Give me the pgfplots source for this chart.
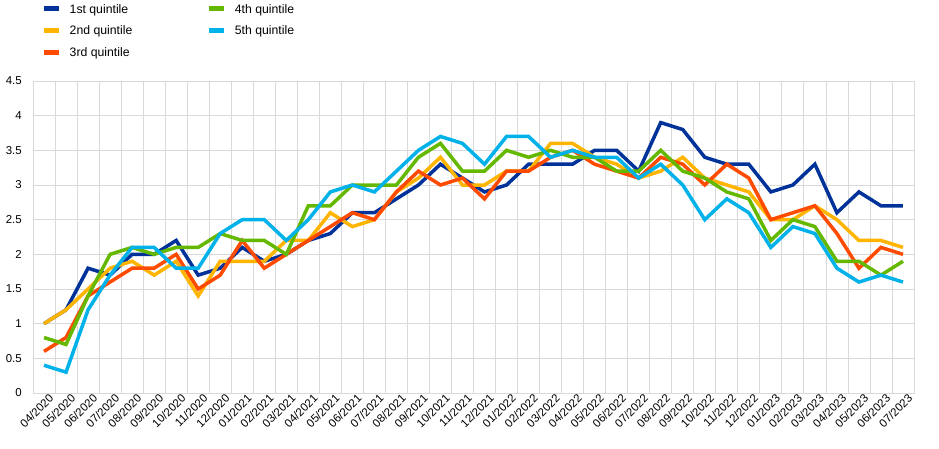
\documentclass[border=0pt]{standalone}
\usepackage{pgfplots}
\pgfplotsset{compat=1.18}
\usepackage{fontspec}
\setmainfont{Liberation Sans}
\definecolor{q1}{HTML}{003299}
\definecolor{q2}{HTML}{FFB400}
\definecolor{q3}{HTML}{FF4B00}
\definecolor{q4}{HTML}{65B800}
\definecolor{q5}{HTML}{00B1EA}
\definecolor{gridc}{HTML}{D9D9D9}
\newcommand{\lgd}[2]{\textcolor{#1}{\rule[2bp]{15bp}{5bp}}\hspace{11bp}#2}
\begin{document}
\begin{tikzpicture}
\useasboundingbox (-33bp,-56bp) rectangle (906bp,393bp);
\begin{axis}[
  scale only axis,
  width=881bp, height=312bp,
  xmin=-0.5, xmax=39.5, ymin=0, ymax=4.5,
  xtick={0,...,39},
  xticklabels={04/2020,05/2020,06/2020,07/2020,08/2020,09/2020,10/2020,11/2020,12/2020,01/2021,02/2021,03/2021,04/2021,05/2021,06/2021,07/2021,08/2021,09/2021,10/2021,11/2021,12/2021,01/2022,02/2022,03/2022,04/2022,05/2022,06/2022,07/2022,08/2022,09/2022,10/2022,11/2022,12/2022,01/2023,02/2023,03/2023,04/2023,05/2023,06/2023,07/2023},
  minor xtick={-0.5,0.5,...,39.5},
  ytick={0,0.5,...,4.5},
  major tick length=0pt, minor tick length=0pt,
  xmajorgrids=false, xminorgrids=true, ymajorgrids=true,
  grid style={gridc, line width=0.8bp},
  minor grid style={gridc, line width=0.8bp},
  axis line style={gridc, line width=0.8bp},
  /pgf/number format/assume math mode=true,
  ticklabel style={font=\fontsize{11.5}{13}\selectfont, text=black},
  xticklabel style={rotate=45, anchor=north east, inner sep=1bp, xshift=4bp, yshift=-2bp},
  yticklabel style={anchor=east, inner sep=0pt, xshift=-11bp},
  every axis plot/.append style={line width=3.5bp, line join=miter, no markers},
  legend columns=2,
  legend cell align=left,
  legend style={at={(rel axis cs:0,1)}, anchor=north west, xshift=8.5bp, yshift=79bp,
    draw=none, fill=none, font=\fontsize{12.3}{14}\selectfont,
    /tikz/every odd column/.append style={column sep=0pt},
    /tikz/every even column/.append style={column sep=72.5bp},
    row sep=7.5bp, inner sep=0pt},
  legend image code/.code={},
]
\addlegendimage{q1}\addlegendentry{\lgd{q1}{1st quintile}}
\addlegendimage{q4}\addlegendentry{\lgd{q4}{4th quintile}}
\addlegendimage{q2}\addlegendentry{\lgd{q2}{2nd quintile}}
\addlegendimage{q5}\addlegendentry{\lgd{q5}{5th quintile}}
\addlegendimage{q3}\addlegendentry{\lgd{q3}{3rd quintile}}
% 1st quintile
\addplot[q1, forget plot] coordinates {
(0,1.0)(1,1.2)(2,1.8)(3,1.7)(4,2.0)(5,2.0)(6,2.2)(7,1.7)(8,1.8)(9,2.1)
(10,1.9)(11,2.0)(12,2.2)(13,2.3)(14,2.6)(15,2.6)(16,2.8)(17,3.0)(18,3.3)(19,3.1)
(20,2.9)(21,3.0)(22,3.3)(23,3.3)(24,3.3)(25,3.5)(26,3.5)(27,3.2)(28,3.9)(29,3.8)
(30,3.4)(31,3.3)(32,3.3)(33,2.9)(34,3.0)(35,3.3)(36,2.6)(37,2.9)(38,2.7)(39,2.7)};
% 2nd quintile
\addplot[q2, forget plot] coordinates {
(0,1.0)(1,1.2)(2,1.5)(3,1.8)(4,1.9)(5,1.7)(6,1.9)(7,1.4)(8,1.9)(9,1.9)
(10,1.9)(11,2.2)(12,2.2)(13,2.6)(14,2.4)(15,2.5)(16,2.9)(17,3.1)(18,3.4)(19,3.0)
(20,3.0)(21,3.2)(22,3.2)(23,3.6)(24,3.6)(25,3.4)(26,3.3)(27,3.1)(28,3.2)(29,3.4)
(30,3.1)(31,3.0)(32,2.9)(33,2.5)(34,2.5)(35,2.7)(36,2.5)(37,2.2)(38,2.2)(39,2.1)};
% 3rd quintile
\addplot[q3, forget plot] coordinates {
(0,0.6)(1,0.8)(2,1.4)(3,1.6)(4,1.8)(5,1.8)(6,2.0)(7,1.5)(8,1.7)(9,2.2)
(10,1.8)(11,2.0)(12,2.2)(13,2.4)(14,2.6)(15,2.5)(16,2.9)(17,3.2)(18,3.0)(19,3.1)
(20,2.8)(21,3.2)(22,3.2)(23,3.4)(24,3.5)(25,3.3)(26,3.2)(27,3.1)(28,3.4)(29,3.3)
(30,3.0)(31,3.3)(32,3.1)(33,2.5)(34,2.6)(35,2.7)(36,2.3)(37,1.8)(38,2.1)(39,2.0)};
% 4th quintile
\addplot[q4, forget plot] coordinates {
(0,0.8)(1,0.7)(2,1.4)(3,2.0)(4,2.1)(5,2.0)(6,2.1)(7,2.1)(8,2.3)(9,2.2)
(10,2.2)(11,2.0)(12,2.7)(13,2.7)(14,3.0)(15,3.0)(16,3.0)(17,3.4)(18,3.6)(19,3.2)
(20,3.2)(21,3.5)(22,3.4)(23,3.5)(24,3.4)(25,3.4)(26,3.2)(27,3.2)(28,3.5)(29,3.2)
(30,3.1)(31,2.9)(32,2.8)(33,2.2)(34,2.5)(35,2.4)(36,1.9)(37,1.9)(38,1.7)(39,1.9)};
% 5th quintile
\addplot[q5, forget plot] coordinates {
(0,0.4)(1,0.3)(2,1.2)(3,1.7)(4,2.1)(5,2.1)(6,1.8)(7,1.8)(8,2.3)(9,2.5)
(10,2.5)(11,2.2)(12,2.5)(13,2.9)(14,3.0)(15,2.9)(16,3.2)(17,3.5)(18,3.7)(19,3.6)
(20,3.3)(21,3.7)(22,3.7)(23,3.4)(24,3.5)(25,3.4)(26,3.4)(27,3.1)(28,3.3)(29,3.0)
(30,2.5)(31,2.8)(32,2.6)(33,2.1)(34,2.4)(35,2.3)(36,1.8)(37,1.6)(38,1.7)(39,1.6)};
\end{axis}
\end{tikzpicture}
\end{document}
